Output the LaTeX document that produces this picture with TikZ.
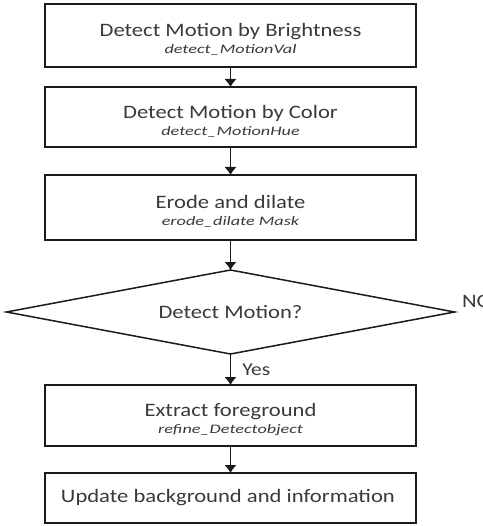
\documentclass[tikz,border=0pt]{standalone}
\usepackage{fontspec}
\setmainfont{Carlito}[FakeStretch=1.19]
\newfontfamily\fnfont{Carlito}[FakeStretch=1.4]
\usepackage{tikz}
\usetikzlibrary{arrows.meta,positioning,shapes.geometric}
\definecolor{inkgray}{HTML}{3A3A3A}
\definecolor{framegray}{HTML}{1A1A1A}
\newcommand{\funcname}[1]{{\fnfont\fontsize{13}{17}\selectfont\itshape #1}}
\tikzset{
  stagebox/.style={
    rectangle,
    draw=framegray,
    fill=white,
    line width=1.5pt,
    minimum width=371pt,
    minimum height=62pt,
    inner sep=0pt,
    outer sep=0pt,
    align=center,
    text=inkgray,
    font=\fontsize{19}{17}\selectfont
  },
  twoline/.style={text height=38pt},
  decision/.style={
    diamond,
    aspect=5.33,
    draw=framegray,
    fill=white,
    line width=1.5pt,
    minimum width=448pt,
    minimum height=84pt,
    inner sep=0pt,
    outer sep=0pt,
    align=center,
    text=inkgray,
    font=\fontsize{19}{17}\selectfont
  },
  flow/.style={-{Latex[length=8pt,width=12pt]}, line width=1pt, draw=framegray}
}

\begin{document}
\begin{tikzpicture}[x=1pt, y=1pt]
\useasboundingbox (0,0) rectangle (482,-526);

\node[stagebox, twoline, minimum height=63pt] (bright) at (230.5,-35.5) {
Detect Motion by Brightness\\
\funcname{detect\_MotionVal}
};

\node[stagebox, twoline, minimum height=60pt, below=20pt of bright] (color) {
Detect Motion by Color\\
\funcname{detect\_MotionHue}
};

\node[stagebox, twoline, minimum height=65pt, below=28pt of color] (erode) {
Erode and dilate\\
\funcname{erode\_dilate Mask}
};

\node[decision, below=30pt of erode] (motion) {Detect Motion?};

\node[stagebox, twoline, minimum height=61pt, below=31pt of motion] (extract) {
Extract foreground\\
\funcname{refine\_Detectobject}
};

\node[stagebox, minimum height=50pt, below=27pt of extract] (update) {
Update background and information
};

\node[anchor=base west, text=inkgray, font=\fontsize{19}{17}\selectfont,
  xshift=4pt, yshift=5pt] (nolabel) at (motion.east) {NO};

\draw[flow] (bright) -- (color);
\draw[flow] (color) -- (erode);
\draw[flow] (erode) -- (motion);
\draw[flow] (motion) -- node[right, xshift=8pt, text=inkgray, font=\fontsize{18}{17}\selectfont] (yeslabel) {Yes} (extract);
\draw[flow] (extract) -- (update);

\end{tikzpicture}
\end{document}
